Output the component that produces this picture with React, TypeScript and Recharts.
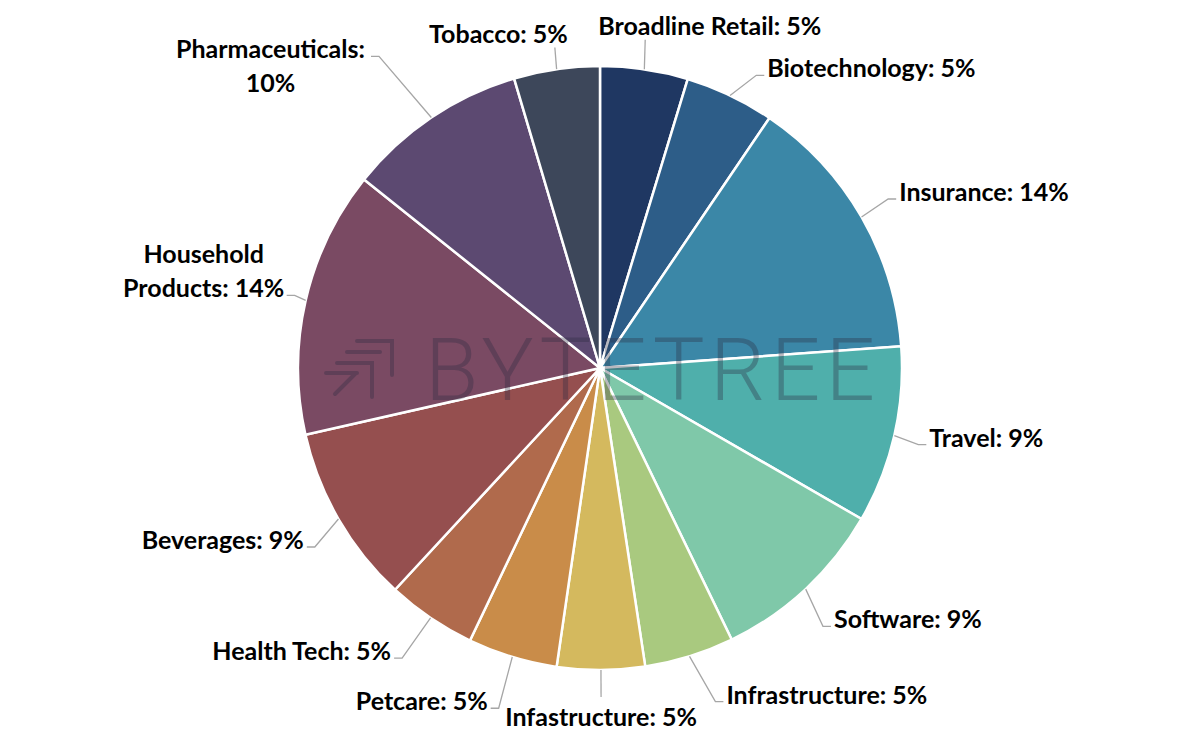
import { Cell, Pie, PieChart } from "recharts";

// Répartition sectorielle, tranches dans le sens horaire depuis midi.
const SECTORS = [
  "Broadline Retail",
  "Biotechnology",
  "Insurance",
  "Travel",
  "Software",
  "Infrastructure",
  "Infastructure",
  "Petcare",
  "Health Tech",
  "Beverages",
  "Household Products",
  "Pharmaceuticals",
  "Tobacco"
];

const WEIGHTS = [4.7, 4.8, 14.4, 9.5, 9.5, 4.8, 4.7, 4.8, 4.8, 9.6, 14.3, 9.7, 4.6];

const PCT_LABELS = ["5%", "5%", "14%", "9%", "9%", "5%", "5%", "5%", "5%", "9%", "14%", "10%", "5%"];

const COLORS = [
  "#1f3762",
  "#2d5d88",
  "#3b87a7",
  "#4fafab",
  "#7fc8a9",
  "#a9c97f",
  "#d4b95e",
  "#c98c49",
  "#b06a4c",
  "#954f4f",
  "#7a4a63",
  "#5c4971",
  "#3d475a"
];

// Placement des étiquettes (coude de la ligne de rappel, décalé du point à R+40).
type Layout = {
  kind: "left" | "right" | "up" | "down";
  dx: number;
  dy: number;
  anchor?: "start" | "end" | "middle";
  tx?: number;
  split?: number;
  block?: number;
  attach?: number;
};

const LABEL_LAYOUT: Layout[] = [
  { kind: "up", dx: -5, dy: 10, anchor: "start", tx: -47 },
  { kind: "right", dx: 9, dy: 16 },
  { kind: "right", dx: -8, dy: 2 },
  { kind: "right", dx: -15, dy: 0 },
  { kind: "right", dx: -10, dy: 8 },
  { kind: "right", dx: 14, dy: 7 },
  { kind: "down", dx: 0, dy: -13 },
  { kind: "left", dx: -2, dy: 13 },
  { kind: "left", dx: -6, dy: 7 },
  { kind: "left", dx: 11, dy: 8 },
  { kind: "left", dx: 28, dy: 4, split: 1, block: 160, attach: 1 },
  { kind: "left", dx: -30, dy: -28, split: 1, block: 195, attach: 0 },
  { kind: "up", dx: 4, dy: 18, anchor: "end", tx: 13 }
];

const data = SECTORS.map((name, i) => ({ name, value: WEIGHTS[i], pct: PCT_LABELS[i] }));

const RAD = Math.PI / 180;
const LINE_COLOR = "#a6a6a6";
const FONT = "Lato, 'Open Sans', sans-serif";

function polar(cx: number, cy: number, r: number, angle: number) {
  return { x: cx + r * Math.cos(-angle * RAD), y: cy + r * Math.sin(-angle * RAD) };
}

function renderLabel(props: any) {
  const { cx, cy, midAngle, outerRadius, index } = props;
  const lay = LABEL_LAYOUT[index];
  const edge = polar(cx, cy, outerRadius, midAngle);
  const base = polar(cx, cy, outerRadius + 40, midAngle);
  const ex = base.x + lay.dx;
  const ey = base.y + lay.dy;
  const words = `${SECTORS[index]}: ${PCT_LABELS[index]}`.split(" ");
  const lines = lay.split
    ? [words.slice(0, lay.split).join(" "), words.slice(lay.split).join(" ")]
    : [words.join(" ")];
  const textProps = {
    fontFamily: FONT,
    fontWeight: 700,
    fontSize: 25,
    fill: "#000"
  };

  let path = `M${edge.x},${edge.y} L${ex},${ey}`;
  let text: any = null;

  if (lay.kind === "right" || lay.kind === "left") {
    const sign = lay.kind === "right" ? 1 : -1;
    path += ` L${ex + sign * 8},${ey}`;
    const tx = ex + sign * 11;
    const ty = ey - 8;
    if (lines.length > 1 && lay.block) {
      const mid = tx + (sign * lay.block) / 2;
      const attach = lay.attach ?? lines.length - 1;
      text = (
        <text {...textProps} textAnchor="middle" dominantBaseline="central">
          {lines.map((ln, k) => (
            <tspan key={k} x={mid} y={ty + (k - attach) * 34}>
              {ln}
            </tspan>
          ))}
        </text>
      );
    } else {
      text = (
        <text
          {...textProps}
          x={tx}
          y={ty}
          textAnchor={sign > 0 ? "start" : "end"}
          dominantBaseline="central"
        >
          {lines[0]}
        </text>
      );
    }
  } else if (lay.kind === "up") {
    text = (
      <text
        {...textProps}
        x={ex + (lay.tx ?? 0)}
        y={ey - 15}
        textAnchor={lay.anchor ?? "middle"}
        dominantBaseline="central"
      >
        {lines[0]}
      </text>
    );
  } else {
    text = (
      <text {...textProps} x={ex} y={ey + 19} textAnchor="middle" dominantBaseline="central">
        {lines[0]}
      </text>
    );
  }

  return (
    <g key={`lbl-${index}`}>
      <path d={path} stroke={LINE_COLOR} strokeWidth={1.3} fill="none" />
      {text}
    </g>
  );
}

function Watermark() {
  const stroke = { stroke: "#2b2a40", strokeWidth: 4, strokeLinecap: "round" as const, fill: "none" };
  return (
    <svg
      width={1200}
      height={737}
      style={{ position: "absolute", left: 0, top: 0, pointerEvents: "none" }}
    >
      <g opacity={0.33}>
        <path d="M357,341 H392 V375" {...stroke} />
        <path d="M347,352 H380" {...stroke} />
        <path d="M337,363 H372 V397" {...stroke} />
        <path d="M326,373 H357 M335,394 L355,374" {...stroke} />
        <text
          x={425}
          y={400}
          fontFamily="Roboto, 'DejaVu Sans', sans-serif"
          fontWeight={300}
          fontSize={87}
          fill="#2b2a40"
          textLength={450}
          lengthAdjust="spacing"
        >
          BYTETREE
        </text>
      </g>
    </svg>
  );
}

export default function App() {
  return (
    <div style={{ position: "absolute", left: 0, top: 0, width: 1200, height: 737, background: "#fff" }}>
      <PieChart width={1200} height={737} margin={{ top: 0, right: 0, bottom: 0, left: 0 }}>
        <Pie
          data={data}
          dataKey="value"
          nameKey="name"
          cx={600}
          cy={368}
          outerRadius={302}
          startAngle={90}
          endAngle={-270}
          stroke="#ffffff"
          strokeWidth={2.5}
          label={renderLabel}
          labelLine={false}
          isAnimationActive={false}
        >
          {data.map((d, i) => (
            <Cell key={d.name} fill={COLORS[i]} />
          ))}
        </Pie>
      </PieChart>
      <Watermark />
    </div>
  );
}
